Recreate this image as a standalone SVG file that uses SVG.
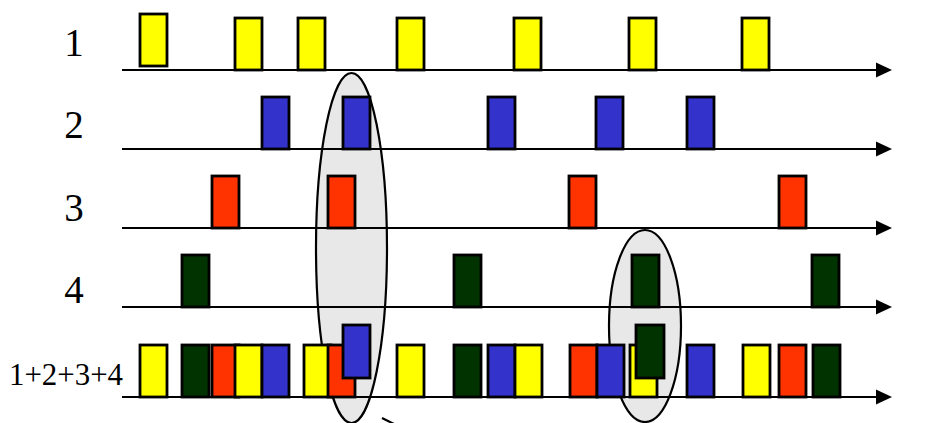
<svg xmlns="http://www.w3.org/2000/svg" width="935" height="423" viewBox="0 0 935 423">
<style>
.ax{stroke:#000;stroke-width:2.2;fill:none}
.ah{fill:#000}
.p{stroke:#000;stroke-width:2.8}
.y{fill:#FFFF00}
.b{fill:#3333CC}
.r{fill:#FF3300}
.g{fill:#003300}
.el{fill:#E8E8E8;stroke:#000;stroke-width:2.2}
.lbl{font-family:"Liberation Serif","Times New Roman",serif;fill:#000}
</style>
<defs>
<polygon id="arr" points="0,-7.5 16,0 0,7.5"/>
</defs>
<g id="highlights">
<ellipse class="el" cx="351.5" cy="248" rx="35.5" ry="175"/>
<ellipse class="el" cx="645" cy="326" rx="36" ry="96"/>
<path d="M382,418 L394,424" stroke="#000" stroke-width="2.2" fill="none"/>
</g>
<g id="connectors">
<line class="ax" x1="122" y1="70" x2="880" y2="70"/><use href="#arr" x="876" y="70"/>
<line class="ax" x1="122" y1="149" x2="880" y2="149"/><use href="#arr" x="876" y="149"/>
<line class="ax" x1="122" y1="228" x2="880" y2="228"/><use href="#arr" x="876" y="228"/>
<line class="ax" x1="122" y1="307" x2="880" y2="307"/><use href="#arr" x="876" y="307"/>
<line class="ax" x1="122" y1="397" x2="880" y2="397"/><use href="#arr" x="876" y="397"/>
</g>
<g id="labels" class="lbl">
<text x="74" y="56" font-size="39" text-anchor="middle">1</text>
<text x="74" y="138" font-size="39" text-anchor="middle">2</text>
<text x="74" y="221" font-size="39" text-anchor="middle">3</text>
<text x="74" y="303" font-size="39" text-anchor="middle">4</text>
<text x="9" y="385" font-size="31" textLength="114" lengthAdjust="spacingAndGlyphs">1+2+3+4</text>
</g>
<g id="source1">
<rect class="p y" x="140" y="14" width="27" height="52"/>
<rect class="p y" x="235" y="18" width="27" height="52"/>
<rect class="p y" x="298" y="18" width="27" height="52"/>
<rect class="p y" x="397" y="18" width="27" height="52"/>
<rect class="p y" x="514" y="18" width="27" height="52"/>
<rect class="p y" x="629" y="18" width="27" height="52"/>
<rect class="p y" x="742" y="18" width="27" height="52"/>
</g>
<g id="source2">
<rect class="p b" x="262" y="97" width="27" height="52"/>
<rect class="p b" x="343" y="97" width="27" height="52"/>
<rect class="p b" x="488" y="97" width="27" height="52"/>
<rect class="p b" x="596" y="97" width="27" height="52"/>
<rect class="p b" x="687" y="97" width="27" height="52"/>
</g>
<g id="source3">
<rect class="p r" x="212" y="176" width="27" height="52"/>
<rect class="p r" x="328" y="176" width="27" height="52"/>
<rect class="p r" x="569" y="176" width="27" height="52"/>
<rect class="p r" x="779" y="176" width="27" height="52"/>
</g>
<g id="source4">
<rect class="p g" x="182" y="255" width="27" height="52"/>
<rect class="p g" x="454" y="255" width="27" height="52"/>
<rect class="p g" x="632" y="255" width="27" height="52"/>
<rect class="p g" x="812" y="255" width="27" height="52"/>
</g>
<g id="sum">
<rect class="p y" x="140" y="345" width="27" height="52"/>
<rect class="p g" x="182" y="345" width="27" height="52"/>
<rect class="p r" x="212" y="345" width="27" height="52"/>
<rect class="p y" x="235" y="345" width="27" height="52"/>
<rect class="p b" x="262" y="345" width="27" height="52"/>
<rect class="p y" x="304" y="345" width="27" height="52"/>
<rect class="p r" x="328" y="345" width="27" height="52"/>
<rect class="p b" x="343" y="325" width="27" height="53"/>
<rect class="p y" x="397" y="345" width="27" height="52"/>
<rect class="p g" x="454" y="345" width="27" height="52"/>
<rect class="p b" x="488" y="345" width="27" height="52"/>
<rect class="p y" x="515" y="345" width="27" height="52"/>
<rect class="p r" x="570" y="345" width="27" height="52"/>
<rect class="p b" x="597" y="345" width="27" height="52"/>
<rect class="p y" x="630" y="345" width="27" height="52"/>
<rect class="p g" x="636" y="325" width="28" height="53"/>
<rect class="p b" x="687" y="345" width="27" height="52"/>
<rect class="p y" x="743" y="345" width="27" height="52"/>
<rect class="p r" x="779" y="345" width="27" height="52"/>
<rect class="p g" x="813" y="345" width="27" height="52"/>
</g>
</svg>
